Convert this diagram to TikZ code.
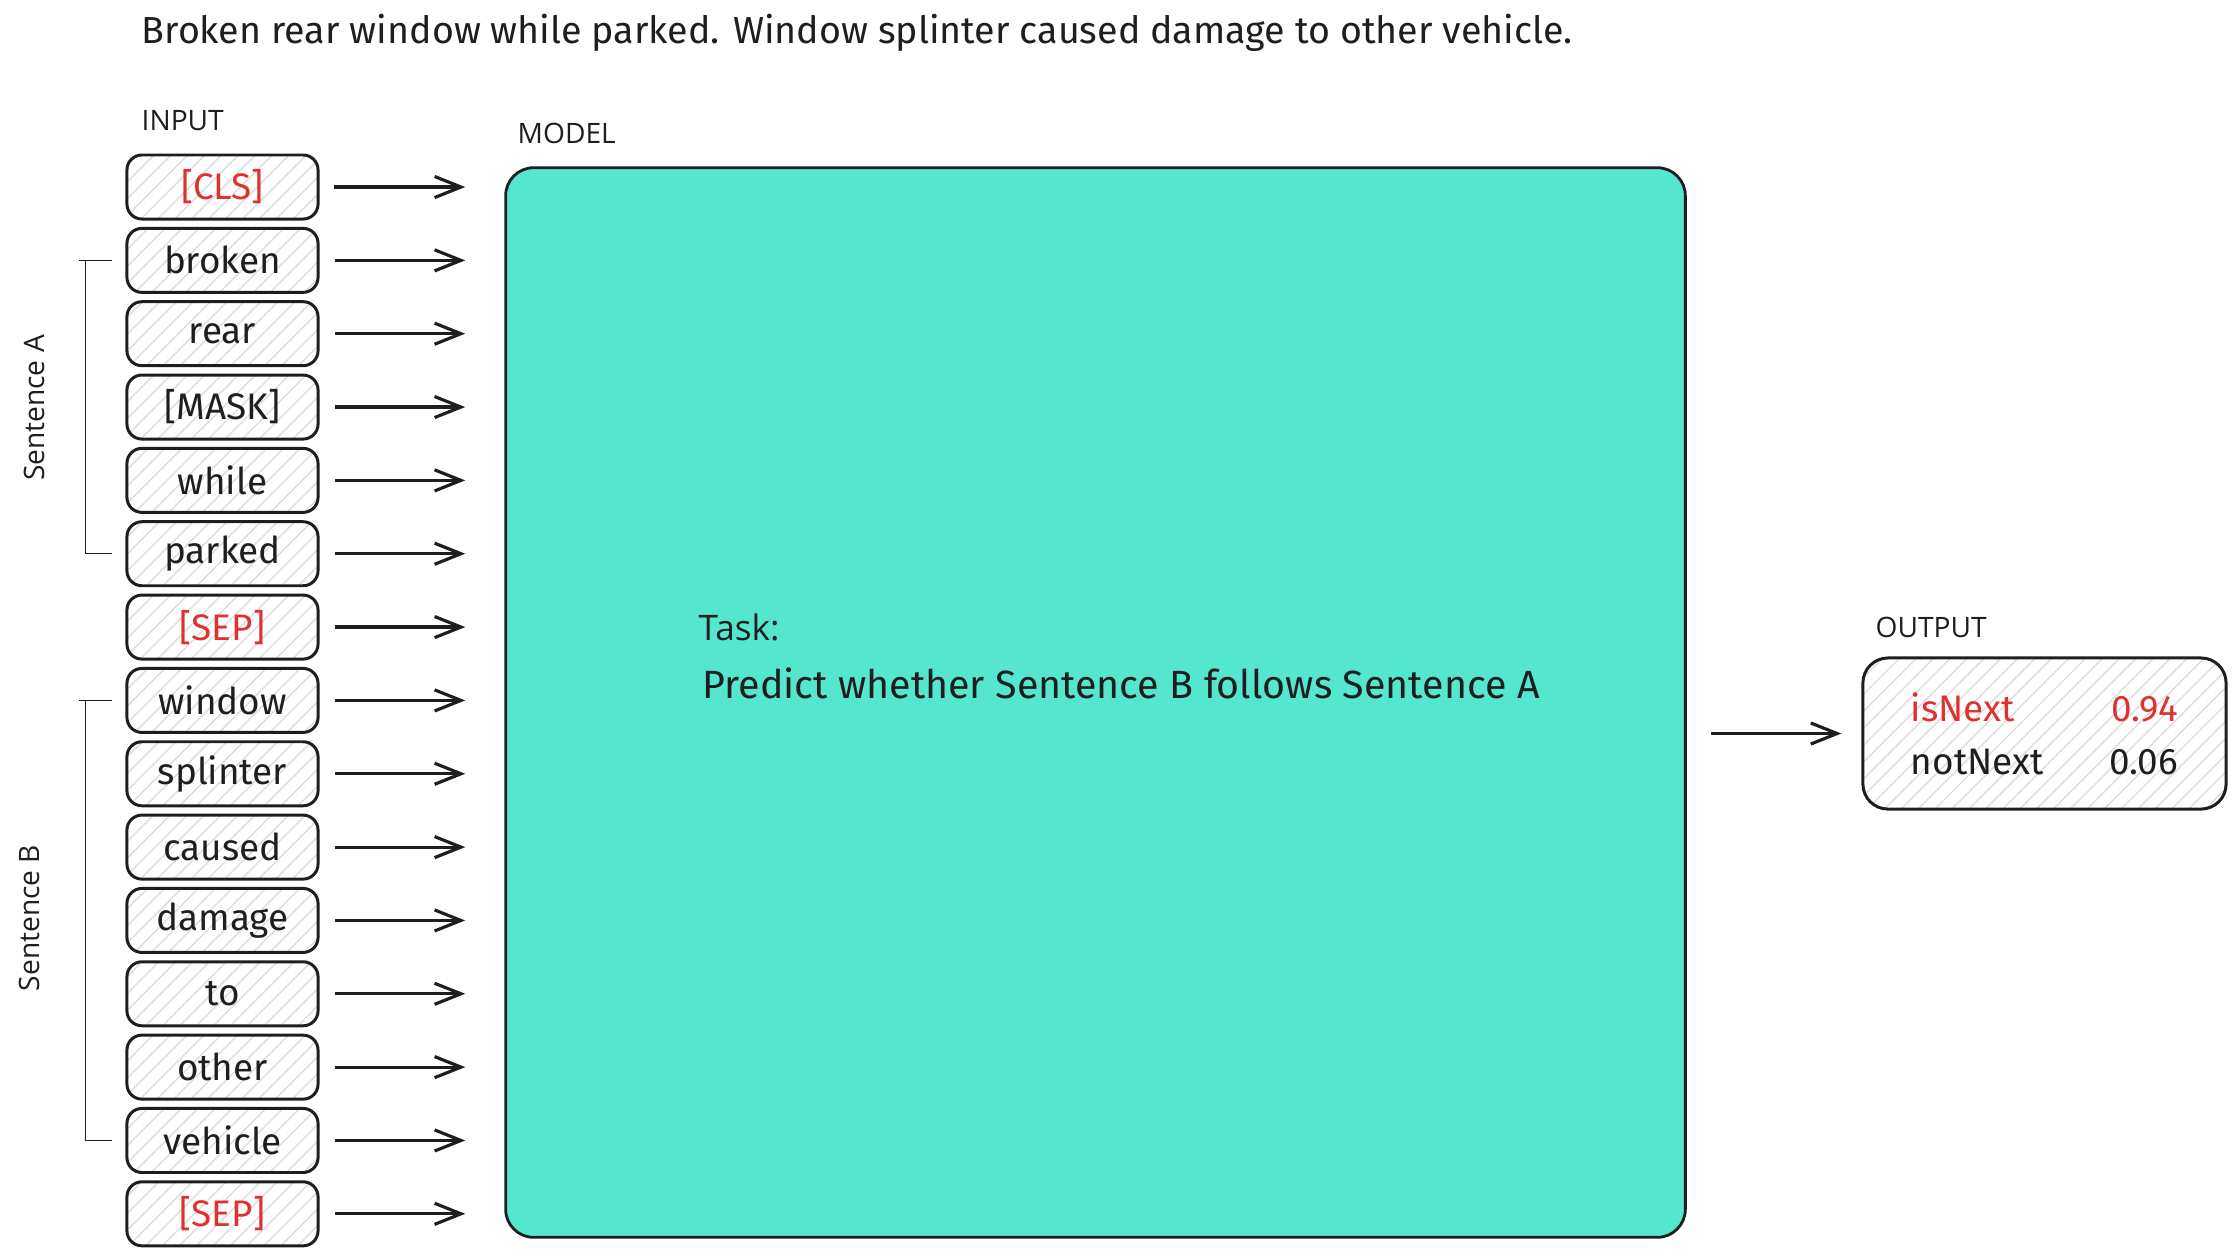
\documentclass[tikz,border=0pt]{standalone}
\usepackage{fontspec}
\newfontfamily\labelfont{Open Sans}
\newfontfamily\handfont{Fira Sans}
\usepackage{xcolor}
\usetikzlibrary{arrows.meta,patterns.meta,positioning}
\definecolor{inkblack}{HTML}{1E1E1E}
\definecolor{tokred}{HTML}{E03131}
\definecolor{modelteal}{HTML}{55E6D0}
\definecolor{hatch}{HTML}{DCDCDC}

\begin{document}
\begin{tikzpicture}[x=0.01cm, y=-0.01cm, >={Straight Barb[length=7.5pt,width=6pt]}, node distance=0.733cm, font=\handfont\fontsize{10.5}{12}\selectfont, inkblack]
    \tikzstyle{tok}=[draw, line width=0.85pt, rounded corners=0.15cm, minimum width=1.91cm, minimum height=0.64cm, inner sep=0pt, pattern={Lines[angle=45,distance=3.4pt,line width=0.4pt]}, pattern color=hatch]
    \tikzstyle{lbl}=[font=\labelfont\fontsize{8}{10}\selectfont, anchor=west, inner sep=0pt]
    \useasboundingbox (0,0) rectangle (2235,1256);
    \node[anchor=west, inner sep=0pt, font=\handfont\fontsize{10.7}{12}\selectfont] (title) at (141,33) {Broken rear window while parked. Window splinter caused damage to other vehicle.};
    % input tokens
    \node[lbl] (lblin) at (141,121) {INPUT};
    \node[tok, text=tokred] (cls) at (222.5,187) {[CLS]};
    \node[tok, below of=cls] (broken) {broken};
    \node[tok, below of=broken] (rear) {rear};
    \node[tok, below of=rear] (mask) {[MASK]};
    \node[tok, below of=mask] (while) {while};
    \node[tok, below of=while] (parked) {parked};
    \node[tok, below of=parked, text=tokred] (sepA) {[SEP]};
    \node[tok, below of=sepA] (window) {window};
    \node[tok, below of=window] (splinter) {splinter};
    \node[tok, below of=splinter] (caused) {caused};
    \node[tok, below of=caused] (damage) {damage};
    \node[tok, below of=damage] (toword) {to};
    \node[tok, below of=toword] (other) {other};
    \node[tok, below of=other] (vehicle) {vehicle};
    \node[tok, below of=vehicle, text=tokred] (sepB) {[SEP]};
    % sentence brackets
    \draw[line width=0.4pt] ([xshift=-0.13cm]broken.west) -- ++(-33,0) ++(6,0) |- ([xshift=-0.13cm]parked.west);
    \draw[line width=0.4pt] ([xshift=-0.13cm]window.west) -- ++(-33,0) ++(6,0) |- ([xshift=-0.13cm]vehicle.west);
    \node[lbl, rotate=90, anchor=center] (senta) at (34,408) {Sentence A};
    \node[lbl, rotate=90, anchor=center] (sentb) at (29,918) {Sentence B};
    % model
    \node[lbl] (lblmodel) at (517,133) {MODEL};
    \node[draw, line width=0.8pt, fill=modelteal, rounded corners=0.28cm, minimum width=11.79cm, minimum height=10.69cm] (model) at (1095.5,702.5) {};
    \node[anchor=west, inner sep=0pt, font=\labelfont\fontsize{10}{12}\selectfont] (task) at (698,627) {Task:};
    \node[anchor=west, inner sep=0pt, font=\handfont\fontsize{11.2}{12}\selectfont] (pred) at (702,683) {Predict whether Sentence B follows Sentence A};
    \foreach \n in {cls,broken,rear,mask,while,parked,sepA,window,splinter,caused,damage,toword,other,vehicle,sepB}
        \draw[->, line width=0.9pt, shorten <=0.15cm, shorten >=0.39cm] (\n.east) -- (\n.east -| model.west);
    % output
    \node[lbl] (lblout) at (1875,627) {OUTPUT};
    \node[tok, minimum width=3.63cm, minimum height=1.51cm, rounded corners=0.25cm, text width=2.67cm, align=left, font=\handfont\fontsize{10.5}{15}\selectfont] (out) at (2044.5,733.5) {{\color{tokred}isNext\hfill 0.94}\\notNext\hfill 0.06};
    \draw[->, line width=0.9pt, shorten <=0.24cm, shorten >=0.2cm] (model.east |- out.west) -- (out.west);
\end{tikzpicture}
\end{document}
